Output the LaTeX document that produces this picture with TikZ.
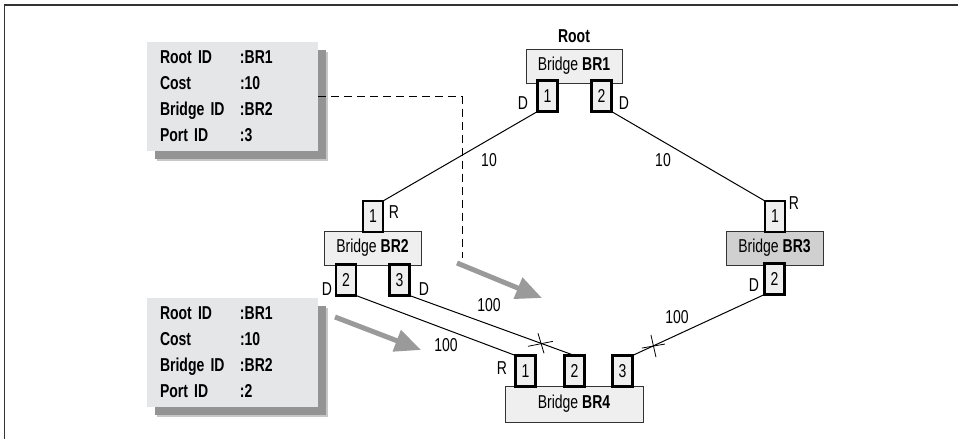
\documentclass[tikz,border=0pt]{standalone}
\usepackage{fontspec}
\setmainfont[FakeStretch=0.75]{Liberation Sans}
\usetikzlibrary{arrows.meta,shadows}
\newdimen\pxu \pxu=0.75pt
\definecolor{bfill}{HTML}{EFEFF0}
\definecolor{bthree}{HTML}{D0D0D0}
\definecolor{ifill}{HTML}{E5E6E7}
\definecolor{agray}{HTML}{9A9A9A}
\definecolor{framec}{HTML}{333333}
\begin{document}
\begin{tikzpicture}[x=0.75pt,y=-0.75pt,
  every node/.style={font=\fontsize{14}{16}\selectfont, outer sep=0pt},
  bridge/.style={draw=black!80, line width=1\pxu, fill=bfill, minimum height=34\pxu, inner sep=0pt},
  port/.style={draw=black, line width=2.2\pxu, fill=bfill, minimum width=20\pxu, minimum height=31\pxu, inner sep=0pt},
  link/.style={line width=1\pxu, black},
  lbl/.style={inner sep=0pt},
  info/.style={fill=ifill, minimum height=109\pxu, text width=145\pxu, inner xsep=13\pxu, inner ysep=0pt, align=left,
    font=\fontsize{14}{19.5}\selectfont\bfseries,
    drop shadow={shadow xshift=10\pxu, shadow yshift=-10\pxu, fill=black!22, opacity=1},
    drop shadow={shadow xshift=8\pxu, shadow yshift=-8\pxu, fill=black!42, opacity=1}},
  garrow/.style={draw=agray, line width=3.75pt, -{Triangle[length=19.5pt, width=16.5pt]}},
  crossl/.style={line width=0.8\pxu, black},
  dashl/.style={dash pattern=on 6pt off 3.75pt, line width=1\pxu, black}]
\useasboundingbox (0,0) rectangle (958,439);
% frame
\draw[framec, line width=1.5\pxu] (4.5,439) -- (4.5,5) -- (958,5);

% info boxes
\node[info] (info1) at (232.5,96.5) {\makebox[60pt][l]{Root ID}:BR1\\\makebox[60pt][l]{Cost}:10\\\makebox[60pt][l]{Bridge ID}:BR2\\\makebox[60pt][l]{Port ID}:3};
\node[info] (info2) at (232.5,352) {\makebox[60pt][l]{Root ID}:BR1\\\makebox[60pt][l]{Cost}:10\\\makebox[60pt][l]{Bridge ID}:BR2\\\makebox[60pt][l]{Port ID}:2};

% dashed pointer
\coordinate (dashend) at (462,258);
\draw[dashl] (info1.east) -| (dashend);

% gray arrows
\coordinate (a1s) at (457,263);
\coordinate (a1e) at (542,298);
\coordinate (a2s) at (335,317);
\coordinate (a2e) at (421,350);
\draw[garrow] (a1s) -- (a1e);
\draw[garrow] (a2s) -- (a2e);

% bridges
\node[font=\fontsize{14}{16}\selectfont\bfseries] (root) at (574,36) {Root};
\node[bridge, minimum width=96\pxu] (br1) at (574,66) {Bridge \textbf{BR1}};
\node[bridge, minimum width=97\pxu] (br2) at (372.5,248) {Bridge \textbf{BR2}};
\node[bridge, minimum width=97\pxu, fill=bthree] (br3) at (774.5,248) {Bridge \textbf{BR3}};
\node[bridge, minimum width=138\pxu, minimum height=36\pxu] (br4) at (574,404) {Bridge \textbf{BR4}};

% ports
\node[port] (b1p1) at (547.5,96) {1};
\node[port] (b1p2) at (601.5,96) {2};
\node[port] (b2p1) at (373,216.5) {1};
\node[port] (b2p2) at (346,280) {2};
\node[port] (b2p3) at (399.5,280) {3};
\node[port] (b3p1) at (775,216.5) {1};
\node[port] (b3p2) at (774.5,279) {2};
\node[port] (b4p1) at (525.5,371) {1};
\node[port] (b4p2) at (574.5,371) {2};
\node[port] (b4p3) at (622.5,371) {3};

% links
\draw[link] (b1p1.south west) -- (b2p1.north east);
\draw[link] (b1p2.south east) -- (b3p1.north west);
\draw[link] (b2p2.south east) -- (b4p1.north west);
\draw[link] (b2p3.south east) -- coordinate[pos=0.797] (x1) (b4p2.north);
\draw[link] (b3p2.south west) -- coordinate[pos=0.845] (x2) (b4p3.north east);

% blocked-link crosses
\draw[crossl] ([shift={(-3,-10)}]x1) -- ([shift={(3,10)}]x1);
\draw[crossl] ([shift={(-13,3)}]x1) -- ([shift={(12,-2)}]x1);
\draw[crossl] ([shift={(-2,-11)}]x2) -- ([shift={(3,11)}]x2);
\draw[crossl] ([shift={(-11,2)}]x2) -- ([shift={(12,-2)}]x2);

% port role labels
\node[lbl] (l1) at (523,103) {D};
\node[lbl] (l2) at (624,103) {D};
\node[lbl] (l3) at (394,212) {R};
\node[lbl] (l4) at (327,289) {D};
\node[lbl] (l5) at (424,289) {D};
\node[lbl] (l6) at (794,203) {R};
\node[lbl] (l7) at (754,285) {D};
\node[lbl] (l8) at (502,368) {R};

% cost labels
\node[lbl] (c1) at (489,160) {10};
\node[lbl] (c2) at (663,160) {10};
\node[lbl] (c3) at (489,305) {100};
\node[lbl] (c4) at (446,345) {100};
\node[lbl] (c5) at (677,317) {100};
\end{tikzpicture}
\end{document}
